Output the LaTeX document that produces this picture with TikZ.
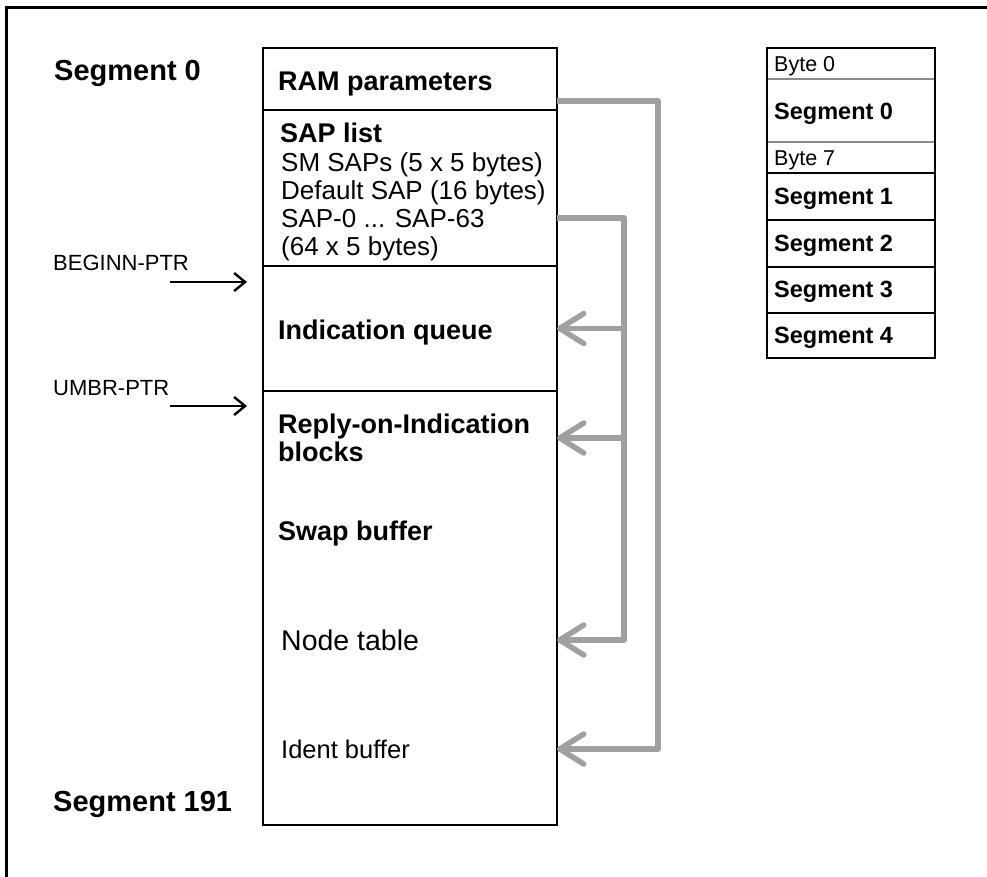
\documentclass[tikz,border=0pt]{standalone}
\usepackage{fontspec}
\setmainfont{Liberation Sans}
\usetikzlibrary{arrows.meta}
\definecolor{cgray}{RGB}{160,160,160}
\definecolor{lgray}{RGB}{140,140,140}
\begin{document}
\begin{tikzpicture}[x=1pt,y=-1pt,
  frameline/.style={line width=3pt},
  cell/.style={draw, line width=2.8pt, inner sep=0pt, outer sep=0pt, anchor=north west},
  rcell/.style={inner sep=0pt, outer sep=0pt, anchor=north west, minimum width=168pt},
  lbl/.style={inner sep=0pt, anchor=base west, align=left},
  bigb/.style={lbl, font=\fontsize{29}{30}\selectfont\bfseries},
  boxb/.style={lbl, font=\fontsize{27}{28.5}\selectfont\bfseries},
  boxn/.style={lbl, font=\fontsize{26}{28.5}\selectfont},
  ptrl/.style={lbl, font=\fontsize{22}{24}\selectfont},
  rb/.style={lbl, font=\fontsize{23.5}{25}\selectfont\bfseries},
  rn/.style={lbl, font=\fontsize{21.5}{23}\selectfont},
  gline/.style={draw=cgray, line width=5.5pt, line join=round},
  garrow/.style={gline, -{Straight Barb[length=24pt, width=30pt, round]}},
  parrow/.style={draw, line width=2.4pt, -{Straight Barb[length=11pt, width=18pt]}}
]
\useasboundingbox (0,0) rectangle (987,876);

% outer frame (top and left visible)
\coordinate (fa) at (6,880);
\coordinate (fb) at (6,7);
\coordinate (fc) at (990,7);
\draw[frameline] (fa) -- (fb) -- (fc);

% main memory block
\node[cell, minimum width=294pt, minimum height=62pt] (ram) at (263,48) {};
\node[cell, minimum width=294pt, minimum height=156pt] (sap) at (263,110) {};
\node[cell, minimum width=294pt, minimum height=125pt] (ind) at (263,266) {};
\node[cell, minimum width=294pt, minimum height=434pt] (rest) at (263,391) {};

\node[boxb] (tram) at (278,90) {RAM parameters};
\node[boxb] (tsap) at (280,142) {SAP list};
\node[boxn] (tsap1) at (281,171) {SM SAPs (5 x 5 bytes)};
\node[boxn] (tsap2) at (281,199) {Default SAP (16 bytes)};
\node[boxn] (tsap3) at (281,227) {SAP-0 ... SAP-63};
\node[boxn] (tsap4) at (281,255) {(64 x 5 bytes)};
\node[boxb] (tind) at (278,339) {Indication queue};
\node[boxb] (trep) at (278,433) {Reply-on-Indication};
\node[boxb] (trep2) at (278,461) {blocks};
\coordinate (crep) at (278,438);
\node[boxb] (tswap) at (278,540) {Swap buffer};
\node[lbl, font=\fontsize{28.5}{30}\selectfont] (tnode) at (281,650) {Node table};
\node[lbl, font=\fontsize{25.5}{27}\selectfont] (tident) at (281,758) {Ident buffer};

% left labels
\node[bigb] (seg0) at (54,80) {Segment 0};
\node[bigb] (seg191) at (53,811) {Segment 191};
\node[ptrl] (pbeg) at (53,270) {BEGINN-PTR};
\node[ptrl] (pumbr) at (53,395) {UMBR-PTR};
\coordinate (pbs) at (170,282);
\coordinate (pus) at (170,406);
\draw[parrow] (pbs) -- +(77,0);
\draw[parrow] (pus) -- +(77,0);

% gray connectors
\coordinate (o1) at (658,101);
\coordinate (o2) at (658,749);
\coordinate (i1) at (624,218);
\coordinate (i2) at (624,640);
\draw[garrow] (ram.east |- o1) -- (o1) -- (o2) -- (rest.east |- o2);
\draw[garrow] (sap.east |- i1) -- (i1) -- (i2) -- (rest.east |- i2);
\draw[garrow] (i1 |- ind.east) -- (ind.east);
\draw[garrow] (i1 |- crep) -- (rest.east |- crep);

% right segment box
\node[rcell, minimum height=31pt] (rb0) at (767,48) {};
\node[rcell, minimum height=63pt] (rs0) at (767,79) {};
\node[rcell, minimum height=31pt] (rb7) at (767,142) {};
\node[rcell, minimum height=47pt] (rs1) at (767,173) {};
\node[rcell, minimum height=47pt] (rs2) at (767,220) {};
\node[rcell, minimum height=46pt] (rs3) at (767,267) {};
\node[rcell, minimum height=45pt] (rs4) at (767,313) {};
\draw[lgray, line width=1.5pt] (rb0.south west) -- (rb0.south east);
\draw[lgray, line width=1.5pt] (rs0.south west) -- (rs0.south east);
\draw[line width=2.6pt] (rb7.south west) -- (rb7.south east);
\draw[line width=2.6pt] (rs1.south west) -- (rs1.south east);
\draw[line width=2.6pt] (rs2.south west) -- (rs2.south east);
\draw[line width=2.6pt] (rs3.south west) -- (rs3.south east);
\draw[line width=2.6pt] (rb0.north west) rectangle (rs4.south east);

\node[rn] (tb0) at (774,71) {Byte 0};
\node[rb] (ts0) at (774,119.5) {Segment 0};
\node[rn] (tb7) at (774,165) {Byte 7};
\node[rb] (ts1) at (774,204.5) {Segment 1};
\node[rb] (ts2) at (774,251.5) {Segment 2};
\node[rb] (ts3) at (774,297.5) {Segment 3};
\node[rb] (ts4) at (774,343.5) {Segment 4};
\end{tikzpicture}
\end{document}
